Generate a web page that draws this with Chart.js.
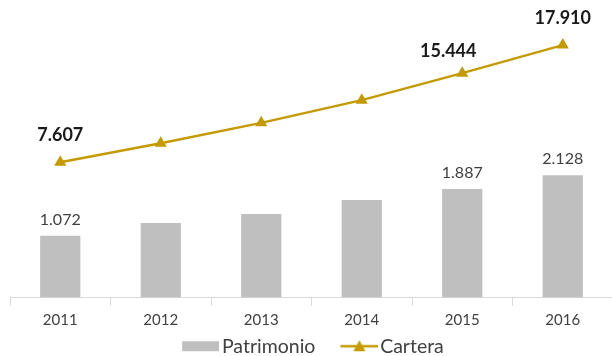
<!DOCTYPE html>
<html>
<head>
<meta charset="utf-8">
<script src="https://cdn.jsdelivr.net/npm/chart.js@4/dist/chart.umd.min.js"></script>
<style>
  html, body { margin: 0; padding: 0; background: #ffffff; overflow: hidden; }
  /* the original plot runs a little past the right and bottom edges */
  #wrap { width: 620px; height: 366px; }
</style>
</head>
<body>
<div id="wrap"><canvas id="chart"></canvas></div>
<script>
const years = ['2011', '2012', '2013', '2014', '2015', '2016'];
const patrimonio = [1072, 1297, 1453, 1695, 1887, 2128];
const cartera = [7607, 9281, 11069, 13068, 15444, 17910];
// which points carry a value label in the original
const labelShown = [true, false, false, false, true, true];

const GOLD = '#C49A00';
const GREY = '#BFBFBF';
const TEXT = '#404040';

function fmt(v) {
    return v.toString().replace(/\B(?=(\d{3})+(?!\d))/g, '.');
}

// legend symbols, drawn into small canvases; the blank left part pushes the
// symbol over to sit right next to its text
function legendBar() {
    const c = document.createElement('canvas');
    c.width = 68; c.height = 12;
    const x = c.getContext('2d');
    x.fillStyle = GREY;
    x.fillRect(31, 1, 37, 10);
    return c;
}
function legendLine() {
    const c = document.createElement('canvas');
    c.width = 70; c.height = 14;
    const x = c.getContext('2d');
    x.strokeStyle = GOLD;
    x.lineWidth = 2.5;
    x.beginPath(); x.moveTo(32, 7); x.lineTo(70, 7); x.stroke();
    x.fillStyle = GOLD;
    x.beginPath(); x.moveTo(51, 1); x.lineTo(57, 12); x.lineTo(45, 12); x.closePath(); x.fill();
    return c;
}

// the blank part of the symbols makes the legend sit too far right, pull it back
const legendShift = {
    id: 'legendShift',
    afterLayout(chart) {
        chart.legend.left -= 14;
        chart.legend.right -= 14;
    }
};

const valueLabels = {
    id: 'valueLabels',
    afterDatasetsDraw(chart) {
        const ctx = chart.ctx;
        ctx.save();
        ctx.textAlign = 'center';
        ctx.textBaseline = 'bottom';
        const bars = chart.getDatasetMeta(0).data;
        ctx.font = '16px Lato';
        ctx.fillStyle = TEXT;
        bars.forEach((b, i) => {
            if (labelShown[i]) ctx.fillText(fmt(patrimonio[i]), b.x, b.y - 8);
        });
        const pts = chart.getDatasetMeta(1).data;
        ctx.font = 'bold 18px Lato';
        ctx.fillStyle = '#1a1a1a';
        pts.forEach((p, i) => {
            if (!labelShown[i]) return;
            let dx = 0, dy = 18;
            if (i === 4) { dx = -14; dy = 13; }
            ctx.fillText(fmt(cartera[i]), p.x + dx, p.y - dy);
        });
        ctx.restore();
    }
};

const data = {
    labels: years,
    datasets: [{
        type: 'bar',
        label: 'Patrimonio',
        data: patrimonio,
        backgroundColor: GREY,
        barPercentage: 0.4,
        categoryPercentage: 1,
        yAxisID: 'y',
        order: 2
    }, {
        type: 'line',
        label: 'Cartera',
        data: cartera,
        borderColor: GOLD,
        backgroundColor: GOLD,
        borderWidth: 2.5,
        pointStyle: 'triangle',
        pointRadius: 7,
        pointBorderWidth: 0,
        pointBackgroundColor: GOLD,
        tension: 0,
        yAxisID: 'y2',
        order: 1
    }]
};

const config = {
    data: data,
    options: {
        responsive: true,
        maintainAspectRatio: false,
        animation: false,
        layout: { padding: { left: 10, right: 0, top: 10, bottom: 0 } },
        plugins: {
            tooltip: { enabled: false },
            legend: {
                position: 'bottom',
                labels: {
                    color: TEXT,
                    font: { family: 'Lato', size: 19.5 },
                    usePointStyle: true,
                    pointStyleWidth: 54,
                    padding: 1,
                    generateLabels: function (chart) {
                        return [
                            { text: 'Patrimonio', pointStyle: legendBar(), fontColor: TEXT, datasetIndex: 0, lineWidth: 0 },
                            { text: 'Cartera', pointStyle: legendLine(), fontColor: TEXT, datasetIndex: 1, lineWidth: 0 }
                        ];
                    }
                }
            }
        },
        scales: {
            x: {
                grid: {
                    offset: true,
                    drawOnChartArea: false,
                    drawTicks: true,
                    tickLength: 8,
                    color: '#D9D9D9'
                },
                border: { color: '#D9D9D9', width: 1 },
                ticks: {
                    color: TEXT,
                    font: { family: 'Lato', size: 15 },
                    padding: 6
                }
            },
            y: {
                display: false,
                min: 0,
                max: 5000
            },
            y2: {
                display: false,
                min: -4300,
                max: 21000
            }
        }
    },
    plugins: [valueLabels, legendShift]
};

window.addEventListener('load', function () {
    new Chart(document.getElementById('chart'), config);
});
</script>
</body>
</html>
